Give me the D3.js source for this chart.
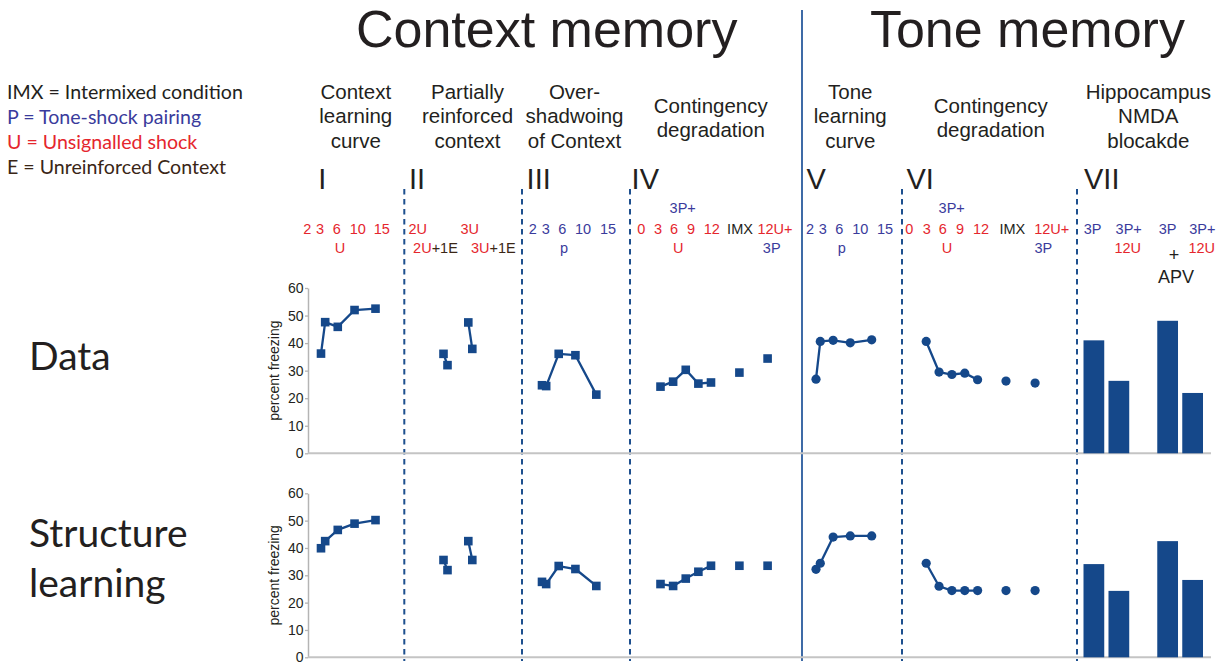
<!DOCTYPE html>
<html>
<head>
<meta charset="utf-8">
<script src="https://cdn.jsdelivr.net/npm/d3@7"></script>
<style>
  body { margin: 0; background: #fff; }
  svg { display: block; }
</style>
</head>
<body>
<svg id="chart" width="1225" height="666"></svg>
<script>
// ---------------- data ----------------
const rowNames = [["Data"], ["Structure", "learning"]];
const sessions = [2, 3, 6, 10, 15];          // panels I, III, V: number of conditioning trials
const degradeTrials = [0, 3, 6, 9, 12];      // panels IV, VI: added unsignalled shocks
const partialGroups = ["2U", "3U"];          // panel II
const partialVariants = ["", "+1E"];
const singleConds = ["IMX", "12U+3P"];       // stand-alone points in IV and VI
const apvGroups = ["Vehicle", "APV"];        // panel VII
const apvConds = ["3P", "3P+12U"];
const yTicks = [0, 10, 20, 30, 40, 50, 60];

// percent freezing; index 0 = Data, index 1 = Structure learning
const ctxCurve    = [[36.2, 47.6, 45.9, 52.0, 52.5], [39.9, 42.5, 46.6, 48.9, 50.2]];
const partial     = [[36.1, 32.0, 47.5, 37.9],       [35.6, 31.9, 42.5, 35.6]];
const overshadow  = [[24.7, 24.4, 36.1, 35.6, 21.3], [27.6, 26.8, 33.4, 32.3, 26.1]];
const ctxDegrade  = [[24.2, 26.0, 30.3, 25.3, 25.7], [26.8, 26.1, 28.8, 31.3, 33.5]];
const ctxSingles  = [[29.3, 34.4],                   [33.5, 33.5]];
const toneCurve   = [[26.9, 40.6, 41.0, 40.1, 41.2], [32.2, 34.4, 44.0, 44.4, 44.4]];
const toneDegrade = [[40.6, 29.5, 28.6, 29.1, 26.7], [34.4, 26.0, 24.4, 24.4, 24.4]];
const toneSingles = [[26.2, 25.5],                   [24.4, 24.4]];
const apvBars     = [[41.0, 26.3, 48.1, 21.9],       [34.1, 24.3, 42.5, 28.3]];

// ---------------- text ----------------
const mainTitles = ["Context memory", "Tone memory"];
const legendLines = [
  "IMX = Intermixed condition",
  "P = Tone-shock pairing",
  "U = Unsignalled shock",
  "E = Unreinforced Context"
];
const panelTitles = [
  ["Context", "learning", "curve"],
  ["Partially", "reinforced", "context"],
  ["Over-", "shadwoing", "of Context"],
  ["Contingency", "degradation"],
  ["Tone", "learning", "curve"],
  ["Contingency", "degradation"],
  ["Hippocampus", "NMDA", "blocakde"]
];
const numerals = ["I", "II", "III", "IV", "V", "VI", "VII"];
const yLabel = "percent freezing";

// ---------------- style & layout ----------------
const RED = "#e5262d", BLUE = "#3a3b9c", BROWN = "#3a2616", INK = "#231f20";
const MARK = "#15488a", DASH = "#1d4f8e";
const SANS = "'Liberation Sans', Arial, sans-serif";
const HUMAN = "Lato, 'Open Sans', sans-serif";

const svg = d3.select("#chart");
svg.append("rect").attr("width", 1225).attr("height", 666).attr("fill", "#fff");

const axisX = 308, plotRight = 1211;
const rows = [
  d3.scaleLinear().domain([0, 60]).range([453.3, 288]),
  d3.scaleLinear().domain([0, 60]).range([657.3, 493.3])
];

// x scales, one per panel
const xI   = d3.scaleLinear().domain([2, 15]).range([321, 375.5]);
const xIIg = d3.scalePoint().domain(partialGroups).range([443.5, 468.3]);
const xIIv = d3.scalePoint().domain(partialVariants).range([0, 4]);
const xIII = d3.scaleLinear().domain([2, 15]).range([542, 596.3]);
const xIV  = d3.scaleLinear().domain([0, 12]).range([660.5, 711]);
const xIVs = d3.scalePoint().domain(singleConds).range([739.4, 767.6]);
const xV   = d3.scaleLinear().domain([2, 15]).range([816, 871.7]);
const xVI  = d3.scaleLinear().domain([0, 12]).range([926.2, 977.6]);
const xVIs = d3.scalePoint().domain(singleConds).range([1006, 1035.1]);
const xVIIg = d3.scaleBand().domain(apvGroups).range([1083.5, 1203]).paddingInner(0.38);
const xVIIc = d3.scaleBand().domain(apvConds).range([0, xVIIg.bandwidth()]).paddingInner(0.17);

// ---------------- headings ----------------
const titleX = [546.7, 1027.4];
mainTitles.forEach((t, i) => {
  svg.append("text").attr("x", titleX[i]).attr("y", 47)
    .attr("text-anchor", "middle").attr("fill", INK)
    .style("font", `52px ${SANS}`).text(t);
});

const legendColors = [INK, BLUE, RED, BROWN];
const legend = svg.append("g").style("font", `19.6px ${HUMAN}`);
legendLines.forEach((t, i) => {
  legend.append("text").attr("x", 7).attr("y", 99 + i * 25)
    .attr("fill", legendColors[i]).text(t);
});

const titleCx = [355.8, 467.5, 574.5, 710.8, 850.3, 990.8, 1148.3];
panelTitles.forEach((lines, i) => {
  const y0 = lines.length === 2 ? 112.5 : 98.5;
  lines.forEach((t, j) => {
    svg.append("text").attr("x", titleCx[i]).attr("y", y0 + j * 24.6)
      .attr("text-anchor", "middle").attr("fill", INK)
      .style("font", `20.5px ${SANS}`).text(t);
  });
});

const numeralX = [318.3, 409, 526.6, 631.6, 806.4, 906.4, 1084];
numerals.forEach((t, i) => {
  svg.append("text").attr("x", numeralX[i]).attr("y", 188.5)
    .attr("fill", INK).style("font", `29px ${SANS}`).text(t);
});

// condition labels under each numeral: [x, baseline, [[text, colour], ...]]
const L1 = 234, L2 = 252.5, L0 = 213;
const condLabels = [];
const put = (x, y, parts, size) => condLabels.push({ x, y, parts, size });
sessions.forEach((s, i) => put([307.3, 320, 336.7, 357.7, 381.7][i], L1, [[String(s), RED]]));
put(340, L2, [["U", RED]]);
put(417.7, L1, [[partialGroups[0], RED]]);
put(469.8, L1, [[partialGroups[1], RED]]);
put(435.5, L2, [[partialGroups[0], RED], [partialVariants[1], BROWN]]);
put(493.3, L2, [[partialGroups[1], RED], [partialVariants[1], BROWN]]);
sessions.forEach((s, i) => put([532.7, 545.7, 562.3, 583, 608][i], L1, [[String(s), BLUE]]));
put(564, L2, [["p", BLUE]]);
put(682.7, L0, [["3P+", BLUE]]);
degradeTrials.forEach((s, i) => put([641.3, 658, 674, 691, 711.7][i], L1, [[String(s), RED]]));
put(678.3, L2, [["U", RED]]);
put(740, L1, [[singleConds[0], INK]]);
put(775, L1, [["12U+", RED]]);
put(771.7, L2, [["3P", BLUE]]);
sessions.forEach((s, i) => put([810, 822.7, 839.3, 860.3, 885][i], L1, [[String(s), BLUE]]));
put(841.7, L2, [["p", BLUE]]);
put(951.7, L0, [["3P+", BLUE]]);
degradeTrials.forEach((s, i) => put([909.3, 926.7, 942.7, 960, 981][i], L1, [[String(s), RED]]));
put(947, L2, [["U", RED]]);
put(1012.3, L1, [[singleConds[0], INK]]);
put(1051.7, L1, [["12U+", RED]]);
put(1043.3, L2, [["3P", BLUE]]);
put(1092.5, L1, [["3P", BLUE]]);
put(1128.7, L1, [["3P+", BLUE]]);
put(1127.8, L2, [["12U", RED]]);
put(1167.5, L1, [["3P", BLUE]]);
put(1202.3, L1, [["3P+", BLUE]]);
put(1201.7, L2, [["12U", RED]]);
put(1174, 261, [["+", INK]], 18);
put(1176, 282.7, [[apvGroups[1], INK]], 18);

condLabels.forEach(d => {
  const t = svg.append("text").attr("x", d.x).attr("y", d.y)
    .attr("text-anchor", "middle")
    .style("font", `${d.size || 14.5}px ${SANS}`);
  d.parts.forEach(([s, c]) => t.append("tspan").attr("fill", c).text(s));
});

// ---------------- separators ----------------
[404.3, 522, 630, 902, 1077].forEach(x => {
  svg.append("line").attr("x1", x).attr("x2", x).attr("y1", 189).attr("y2", 661)
    .attr("stroke", DASH).attr("stroke-width", 2).attr("stroke-dasharray", "5.5,4.5");
});
svg.append("line").attr("x1", 802).attr("x2", 802).attr("y1", 10).attr("y2", 661)
  .attr("stroke", "#2a5b9d").attr("stroke-width", 1.8);

// ---------------- row labels ----------------
const rowLabelY = [[370], [546.7, 596.7]];
rowNames.forEach((lines, r) => {
  lines.forEach((t, j) => {
    svg.append("text").attr("x", 29).attr("y", rowLabelY[r][j])
      .attr("fill", INK).style("font", `39px ${HUMAN}`).text(t);
  });
});

// ---------------- plots ----------------
const line = d3.line();
function series(g, pts, shape, joined) {
  if (joined) {
    g.append("path").attr("d", line(pts)).attr("fill", "none")
      .attr("stroke", MARK).attr("stroke-width", 2.3).attr("stroke-linejoin", "round");
  }
  pts.forEach(([x, y]) => {
    if (shape === "square") {
      g.append("rect").attr("x", x - 4.3).attr("y", y - 4.3).attr("width", 8.6).attr("height", 8.6)
        .attr("fill", MARK);
    } else {
      g.append("circle").attr("cx", x).attr("cy", y).attr("r", 4.6).attr("fill", MARK);
    }
  });
}

rows.forEach((y, r) => {
  const g = svg.append("g");

  // axis + baseline
  const ax = g.append("g").attr("transform", `translate(${axisX},0)`)
    .call(d3.axisLeft(y).tickValues(yTicks).tickSize(3).tickPadding(1.5).tickSizeOuter(0));
  ax.select(".domain").attr("stroke", "#b4b4b4").attr("stroke-width", 1.5);
  ax.selectAll(".tick line").attr("stroke", "#b4b4b4").attr("stroke-width", 1.3);
  ax.selectAll(".tick text").attr("fill", INK).style("font", `14px ${SANS}`);
  g.append("line").attr("x1", axisX).attr("x2", plotRight).attr("y1", y(0)).attr("y2", y(0))
    .attr("stroke", "#c4c4c4").attr("stroke-width", 2);
  const mid = (y(0) + y(60)) / 2;
  g.append("text").attr("transform", `translate(279,${mid}) rotate(-90)`)
    .attr("text-anchor", "middle").attr("fill", INK)
    .style("font", `14px ${SANS}`).text(yLabel);

  // I  context learning curve
  series(g, sessions.map((s, i) => [xI(s), y(ctxCurve[r][i])]), "square", true);
  // II partially reinforced context
  partialGroups.forEach((pg, gi) => {
    const pts = partialVariants.map((v, vi) => [xIIg(pg) + xIIv(v), y(partial[r][gi * 2 + vi])]);
    series(g, pts, "square", true);
  });
  // III overshadowing
  series(g, sessions.map((s, i) => [xIII(s), y(overshadow[r][i])]), "square", true);
  // IV contingency degradation (context)
  series(g, degradeTrials.map((s, i) => [xIV(s), y(ctxDegrade[r][i])]), "square", true);
  series(g, singleConds.map((c, i) => [xIVs(c), y(ctxSingles[r][i])]), "square", false);
  // V tone learning curve
  series(g, sessions.map((s, i) => [xV(s), y(toneCurve[r][i])]), "circle", true);
  // VI contingency degradation (tone)
  series(g, degradeTrials.map((s, i) => [xVI(s), y(toneDegrade[r][i])]), "circle", true);
  series(g, singleConds.map((c, i) => [xVIs(c), y(toneSingles[r][i])]), "circle", false);
  // VII hippocampal NMDA blockade
  apvGroups.forEach((ag, gi) => {
    apvConds.forEach((c, ci) => {
      const v = apvBars[r][gi * 2 + ci];
      g.append("rect").attr("x", xVIIg(ag) + xVIIc(c)).attr("width", xVIIc.bandwidth())
        .attr("y", y(v)).attr("height", y(0) - y(v)).attr("fill", MARK);
    });
  });
});
</script>
</body>
</html>
